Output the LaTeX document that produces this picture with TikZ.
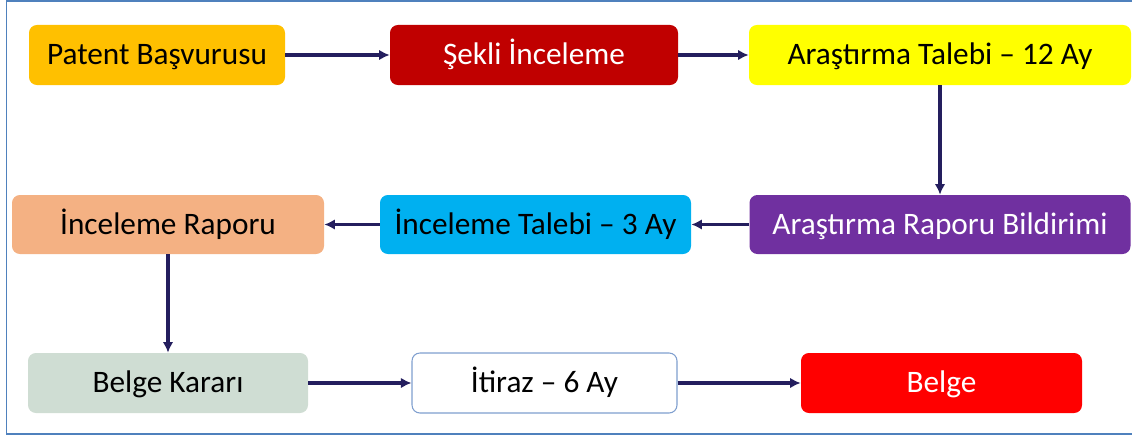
\documentclass[tikz,border=0pt]{standalone}
\usepackage{fontspec}
\setmainfont{Carlito}
\usetikzlibrary{arrows.meta}
\definecolor{frame}{RGB}{79,129,189}
\definecolor{okcol}{RGB}{36,30,94}
\definecolor{turuncu}{RGB}{255,192,0}
\definecolor{bordo}{RGB}{192,0,0}
\definecolor{sari}{RGB}{255,255,0}
\definecolor{mor}{RGB}{112,48,160}
\definecolor{mavi}{RGB}{0,176,240}
\definecolor{somon}{RGB}{244,177,131}
\definecolor{gri}{RGB}{207,221,211}
\definecolor{cerceve}{RGB}{127,159,207}
\tikzset{
  kutu/.style={rounded corners=4.5pt, minimum height=1.2cm, inner sep=0pt,
    text height=12pt, text depth=0.8pt, font=\fontsize{17.8}{21}\selectfont},
  ok/.style={draw=okcol, line width=2.2pt, -{Latex[length=6pt,width=6pt]}}
}

\begin{document}
\begin{tikzpicture}
  %tikz  Patent sureci
  \useasboundingbox (0,0) rectangle (22.64,-8.72);
    \draw[frame, line width=1.1pt] (0.13,-0.02) rectangle (22.75,-8.68);
    \node[kutu, fill=turuncu, minimum width=5.12cm] (A) at (3.14,-1.10) {Patent Başvurusu};
    \node[kutu, fill=bordo, text=white, minimum width=5.76cm] (B) at (10.68,-1.10) {Şekli İnceleme};
    \node[kutu, fill=sari, minimum width=7.64cm] (C) at (18.80,-1.10) {Araştırma Talebi – 12 Ay};
    \node[kutu, fill=mor, text=white, minimum width=7.62cm, minimum height=1.18cm] (D) at (18.80,-4.49) {Araştırma Raporu Bildirimi};
    \node[kutu, fill=mavi, minimum width=6.22cm, minimum height=1.18cm] (E) at (10.71,-4.49) {İnceleme Talebi – 3 Ay};
    \node[kutu, fill=somon, minimum width=6.24cm, minimum height=1.18cm] (F) at (3.36,-4.49) {İnceleme Raporu};
    \node[kutu, fill=gri, minimum width=5.60cm] (G) at (3.36,-7.66) {Belge Kararı};
    \node[kutu, fill=white, draw=cerceve, line width=0.6pt, minimum width=5.30cm] (H) at (10.89,-7.66) {İtiraz – 6 Ay};
    \node[kutu, fill=red, text=white, minimum width=5.62cm] (I) at (18.83,-7.66) {Belge};
    \foreach \a/\b in {A/B, B/C, C/D, D/E, E/F, F/G, G/H, H/I}{
      \draw[ok] (\a) -- (\b);
    }
  \end{tikzpicture}
\end{document}
